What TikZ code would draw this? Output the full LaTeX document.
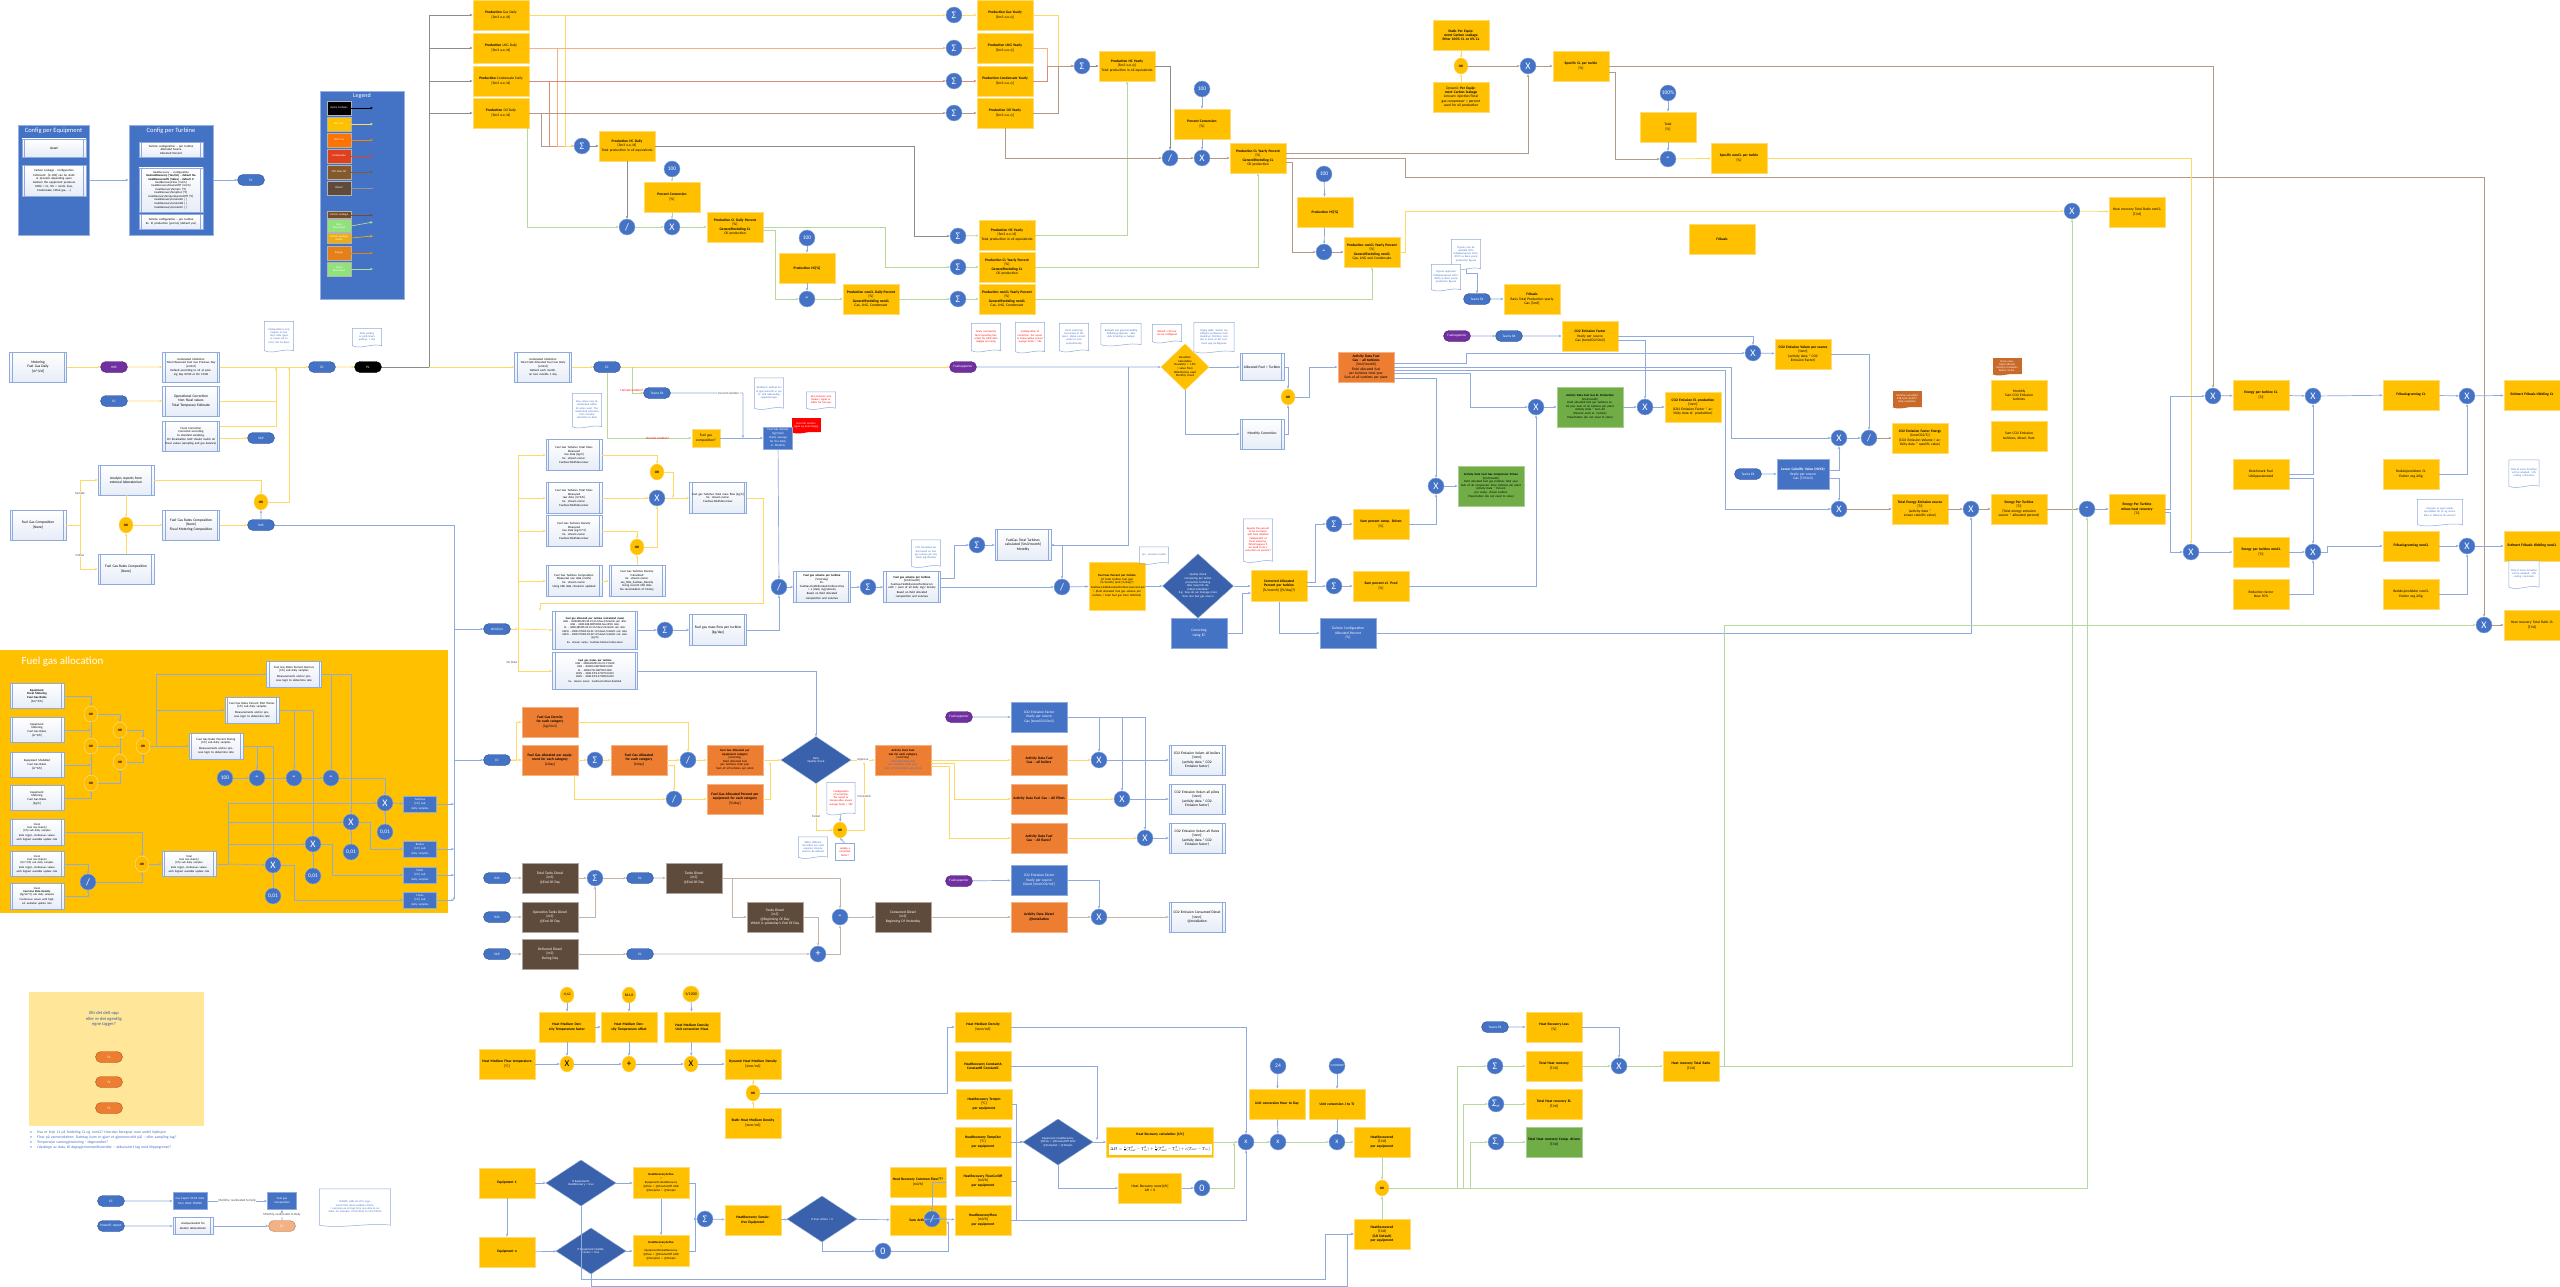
\documentclass[tikz,border=0pt]{standalone}
\usepackage{fontspec}
\usepackage{graphicx}
\setmainfont{Carlito}
\usetikzlibrary{arrows.meta,shapes.geometric,shapes.misc,calc}
\definecolor{Y}{HTML}{FFC000}
\definecolor{B}{HTML}{4472C4}
\definecolor{BD}{HTML}{3A62AC}
\definecolor{O}{HTML}{ED7D31}
\definecolor{G}{HTML}{70AD47}
\definecolor{BR}{HTML}{5F4B3B}
\definecolor{PU}{HTML}{7030A0}
\definecolor{LY}{HTML}{FFD966}
\definecolor{LB}{HTML}{8FAADC}
\definecolor{LBR}{HTML}{B39A88}
\definecolor{LBR2}{HTML}{C2B4A8}
\definecolor{LG}{HTML}{B5D99C}
\definecolor{LGR}{HTML}{8C8C8C}
\definecolor{LO}{HTML}{F4B183}
\definecolor{LR}{HTML}{D98C7A}
\definecolor{PALE}{HTML}{FFE699}
\definecolor{PEACH}{HTML}{F4B183}
\newcommand{\myfs}{\fontsize{3.6}{4.2}\selectfont}
\newcommand{\mysfs}{\fontsize{3}{3.5}\selectfont}
\tikzset{
 bstyle/.style={font=\myfs, align=center, inner sep=0.5pt},
 yb/.style={bstyle, fill=Y, draw=Y!55!white, line width=0.8pt},
 ob/.style={bstyle, fill=O, draw=O!60!white, line width=0.8pt},
 gb/.style={bstyle, fill=G, draw=G!60!white, line width=0.8pt},
 bb/.style={bstyle, fill=B, draw=B!60!white, line width=0.8pt, text=white},
 brb/.style={bstyle, fill=BR, draw=BR!50!white, line width=0.8pt, text=white},
 pp/.style={bstyle, top color=white, bottom color=LB!22, draw=LB, line width=0.5pt,
   path picture={\draw[LB, line width=0.4pt] ([xshift=2.5pt]path picture bounding box.north west) -- ([xshift=2.5pt]path picture bounding box.south west) ([xshift=-2.5pt]path picture bounding box.north east) -- ([xshift=-2.5pt]path picture bounding box.south east);}},
 op/.style={circle, fill=B, draw=B!60!white, text=white, minimum size=16pt, inner sep=0pt, font=\fontsize{10}{10}\selectfont},
 opn/.style={op, font=\fontsize{5.5}{5.5}\selectfont},
 yop/.style={ellipse, fill=Y, draw=Y!60!white, minimum width=14pt, minimum height=16pt, inner sep=0pt, font=\fontsize{3.4}{3.4}\selectfont\bfseries},
 yopb/.style={yop, font=\fontsize{9}{9}\selectfont},
 fop/.style={yop, fill=Y!92!orange, draw=white!60!Y},
 pill/.style={rounded rectangle, fill=B, draw=B!70!black, text=white, minimum width=28pt, minimum height=11pt, inner sep=0.5pt, font=\fontsize{3.4}{3.4}\selectfont},
 ppl/.style={pill, fill=PU, draw=PU!70!black},
 kpl/.style={pill, fill=black, draw=black},
 opl/.style={pill, fill=O, draw=O!70!black},
 bdia/.style={diamond, fill=BD, draw=BD!60!white, text=white, inner sep=0pt, font=\fontsize{3}{3.6}\selectfont, align=center},
 ydia/.style={bdia, fill=Y, draw=Y!60!white, text=black},
 lbl/.style={fill=white, inner sep=0.5pt, font=\fontsize{3.2}{3.2}\selectfont, text=black!70},
 lsw/.style={minimum width=24pt, minimum height=14pt, text width=23pt, text=white, font=\fontsize{2.8}{3.2}\selectfont, inner sep=0.3pt, align=center, draw=white!70!black, line width=0.4pt},
 ar/.style={line width=0.7pt, -{Stealth[length=3pt,width=2.4pt]}},
 ay/.style={ar, draw=LY},
 ab/.style={ar, draw=LB},
 abr/.style={ar, draw=LBR},
 abd/.style={ar, draw=LBR2},
 ag/.style={ar, draw=LG},
 agr/.style={ar, draw=LGR},
 ao/.style={ar, draw=LO},
 ared/.style={ar, draw=LR},
}
\newcommand{\bx}[7][yb]{\pgfmathsetlengthmacro\mytw{#5-4}\node[#1, minimum width=#5pt, minimum height=#6pt, text width=\mytw] (#2) at (#3,#4) {#7};}
\newcommand{\docn}[7][LB]{\pgfmathsetlengthmacro\mytw{#5-3}\node[bstyle, fill=white, font=\fontsize{2.7}{3.2}\selectfont, text=B, minimum width=#5pt, minimum height=#6pt, text width=\mytw] (#2) at (#3,#4) {#7};
 \draw[#1, line width=0.5pt] (#2.south west) -- (#2.north west) -- (#2.north east) -- (#2.south east) .. controls +({-0.3*#5},-3) and +({0.3*#5},4) .. (#2.south west);}
\newcommand{\fdoc}[7][O!85!black]{\pgfmathsetlengthmacro\mytw{#5-3}\node[bstyle, fill=#1, font=\fontsize{2.7}{3.2}\selectfont, text=white, minimum width=#5pt, minimum height=#6pt, text width=\mytw] (#2) at (#3,#4) {#7};
 \fill[#1] (#2.south east) .. controls +({-0.3*#5},-3) and +({0.3*#5},4) .. (#2.south west) -- cycle;}
\begin{document}
\begin{tikzpicture}[x=1pt,y=-1pt]
\useasboundingbox (0,0) rectangle (2560,1287);
\fill[white] (0,0) rectangle (2560,1287);

%%%%%%%%%%%%%%%% containers
\node[fill=Y, minimum width=448pt, minimum height=263pt, inner sep=0pt] (fga) at (224,781.5) {};
\node[anchor=west, text=white, font=\fontsize{11}{11}\selectfont] (fgat) at (18,662) {Fuel gas allocation};
\node[fill=B, draw=B!55!white, line width=0.8pt, minimum width=71pt, minimum height=110pt] (cfgeq) at (53.5,180) {};
\node[text=white, font=\fontsize{6.5}{6.5}\selectfont] (cfgeqt) at (53.5,131) {Config per Equipment};
\node[fill=B, draw=B!55!white, line width=0.8pt, minimum width=84pt, minimum height=110pt] (cfgt) at (171,180) {};
\node[text=white, font=\fontsize{6.5}{6.5}\selectfont] (cfgtt) at (171,131) {Config per Turbine};
\node[fill=B, draw=B!55!white, line width=0.8pt, minimum width=84pt, minimum height=208pt] (leg) at (362,195) {};
\node[text=white, font=\fontsize{6}{6}\selectfont] (legt) at (362,96) {Legend};
\node[fill=PALE, minimum width=175pt, minimum height=134pt] (pale) at (116.5,1059) {};

%%%%%%%%%%%%%%%% config
\bx[pp]{asset}{54}{148}{64}{18}{Asset}
\bx[pp]{clc}{54}{181}{64}{31}{\mysfs Carbon Leakage - configuration\\[1pt]CLPercent: {}[0..100] can be static or dynamic depending upon medium the equipment produces\\100\% = CL, 0\% = nonCL (Gas, Condensate, Lifted gas, ...)}
\bx[pp]{tc1}{171}{150}{64}{15}{\mysfs Turbine configuration – per turbine\\Allocated Source\\Allocated Percent}
\bx[pp]{tc2}{171}{190}{64}{44}{\fontsize{2.9}{3.45}\selectfont HeatRecovery – configuration\\\textbf{HasHeatRecovery [Yes/No] - default No}\\\textbf{HeatRecoveredTJ [Value] - default 0}\\HeatRecoveryFlow [m3/h]\\HeatRecoveryFlowCutOff [m3/h]\\HeatRecoveryTempIn [°C]\\HeatRecoveryTempOut [°C]\\HeatRecoveryTemperatureCutOff [°C]\\HeatRecoveryConstantA [ ]\\HeatRecoveryConstantB [ ]\\HeatRecoveryConstantC [ ]}
\bx[pp]{tc3}{171}{222}{64}{15}{\mysfs Turbine configuration – per turbine\\Ex. El production [yes/no] (default yes)}
\node[pill] (ecc) at (251,180) {EC};
\draw[ab] (cfgeq) -- (cfgt);
\draw[ab] (cfgt) -- (ecc);

%%%%%%%%%%%%%%%% legend
\node[lsw, fill=black] (l1) at (339,108) {Hydro Carbons};
\node[lsw, fill=Y] (l2) at (339,124) {Dry Gas};
\node[lsw, fill=orange!90!red] (l3) at (339,140) {Wet Gas};
\node[lsw, fill=red!50!brown] (l4) at (339,156) {Condensate};
\node[lsw, fill=brown!70!black] (l5) at (339,172) {Oil/ Raw Oil};
\node[lsw, fill=BR] (l6) at (339,188) {Diesel};
\node[lsw, fill=brown!60!black, minimum height=7pt] (l7) at (339,215) {Carbon Leakage};
\node[lsw, fill=LG!80!green, minimum height=13pt] (l8) at (339,226) {Heat\\Recovered};
\node[lsw, fill=Y!70!brown, minimum height=10pt] (l9) at (339,238) {Carbon Leakage\\nonCL};
\node[lsw, fill=orange!60!brown] (l10) at (339,253) {Energy};
\node[lsw, fill=LG!80!green] (l11) at (339,269) {Heat\\Recovered};
\draw[ar, draw=black] (l1.east) -- (373,108);
\draw[ay] (l2.east) -- (373,124);
\draw[ar, draw=orange] (l3.east) -- (373,140);
\draw[ar, draw=red!50!brown] (l4.east) -- (373,156);
\draw[ar, draw=brown!70!black] (l5.east) -- (373,172);
\draw[ar, draw=BR!60!white, -] (l6.east) -- (373,188);
\draw[ar, draw=brown!60!black] (l7.east) -- (373,215);
\draw[ag] (l8.east) -- (373,222);
\draw[ar, draw=Y!70!brown] (l9.east) -- (373,236);
\draw[ar, draw=orange!60!brown] (l10.east) -- (373,253);
\draw[ag] (l11.east) -- (373,269);

%%%%%%%%%%%%%%%% production daily
\bx{pgd}{501}{15}{56}{30}{\textbf{Production} Gas Daily\\{}[Sm3 o.e./d]}
\bx{pld}{501}{48}{56}{30}{\textbf{Production} LNG Daily\\{}[Sm3 o.e./d]}
\bx{pcd}{501}{81}{56}{30}{\textbf{Production} Condensate Daily\\{}[Sm3 o.e./d]}
\bx{pod}{501}{113}{56}{30}{\textbf{Production} Oil Daily\\{}[Sm3 o.e./d]}
\node[op] (s1) at (582,146) {Σ};
\bx{phd}{627}{146}{56}{30}{\textbf{Production HC Daily}\\{}[Sm3 o.e./d]\\Total production in oil equivalents}
\node[op] (d1) at (627,227) {/};
\node[opn] (c100a) at (672,169) {100};
\bx{pca}{672}{197}{56}{30}{\textbf{Percent Conversion}\\{}[\%]}
\node[op] (x1) at (672,227) {X};
\bx{pcldp}{735}{227}{56}{30}{\textbf{Production CL Daily Percent}\\{}[\%]\\\textbf{Generellfordeling CL}\\Oil production}
\node[opn] (c100b) at (807,238) {100};
\bx{phcp}{807}{268}{56}{30}{\textbf{Production HC[\%]}}
\node[op] (m1) at (807,299) {-};
\bx{pncldp}{871}{299}{56}{30}{\textbf{Production nonCL Daily Percent}\\{}[\%]\\\textbf{Generellfordeling nonCL}\\Gas, LNG, Condensate}

%%%%%%%%%%%%%%%% production yearly
\node[op] (sg1) at (954,15) {Σ};
\node[op] (sg2) at (954,48) {Σ};
\node[op] (sg3) at (954,81) {Σ};
\node[op] (sg4) at (954,113) {Σ};
\bx{pgy}{1005}{15}{56}{30}{\textbf{Production Gas Yearly}\\{}[Sm3 o.e./y]}
\bx{ply}{1005}{48}{56}{30}{\textbf{Production LNG Yearly}\\{}[Sm3 o.e./y]}
\bx{pcy}{1005}{81}{56}{30}{\textbf{Production Condensate Yearly}\\{}[Sm3 o.e./y]}
\bx{poy}{1005}{113}{56}{30}{\textbf{Production Oil Yearly}\\{}[Sm3 o.e./y]}
\node[op] (s5) at (1082,66) {Σ};
\bx{phy}{1127}{66}{56}{30}{\textbf{Production HC Yearly}\\{}[Sm3 o.e./y]\\Total production in oil equivalents}
\node[op] (d2) at (1170,158) {/};
\node[opn] (c100c) at (1202,89) {100};
\bx{pcb}{1202}{124}{56}{30}{\textbf{Percent Conversion}\\{}[\%]}
\node[op] (x2) at (1202,158) {X};
\bx{pcly}{1258}{158}{56}{30}{\textbf{Production CL Yearly Percent}\\{}[\%]\\\textbf{Generellfordeling CL}\\Oil production}
\node[op] (s6) at (958,236) {Σ};
\node[op] (s7) at (958,267) {Σ};
\node[op] (s8) at (958,299) {Σ};
\bx{phy2}{1007}{235}{56}{30}{\textbf{Production HC Yearly}\\{}[Sm3 o.e./d]\\Total production in oil equivalents}
\bx{pcly2}{1007}{267}{56}{30}{\textbf{Production CL Yearly Percent}\\{}[\%]\\\textbf{Generellfordeling CL}\\Oil production}
\bx{pncly2}{1007}{299}{56}{30}{\textbf{Production nonCL Yearly Percent}\\{}[\%]\\\textbf{Generellfordeling nonCL}\\Gas, LNG, Condensate}

%%%%%%%%%%%%%%%% carbon leakage
\bx{stat}{1461}{35}{56}{30}{\textbf{Static Per Equipment Carbon Leakage}\\\textbf{Ether 100\% CL or 0\% CL}}
\node[yop] (or1) at (1461,66) {OR};
\bx{dyncl}{1461}{97}{56}{30}{Dynamic \textbf{Per Equipment Carbon leakage}\\Amount injection/Total gas compressor = percent used for oil production}
\node[op] (x3) at (1528,66) {X};
\bx{scl}{1581}{66}{56}{30}{\textbf{Specific CL per turbin}\\{}[\%]}
\node[opn] (c100d) at (1668,93) {100\%};
\bx{totp}{1668}{127}{56}{30}{Total\\{}[\%]}
\node[op] (m2) at (1668,159) {-};
\bx{sncl}{1739}{158}{56}{30}{\textbf{Specific nonCL per turbin}\\{}[\%]}
\node[opn] (c100e) at (1324,174) {100};
\bx{phcp2}{1325}{212}{56}{30}{\textbf{Production HC[\%]}}
\node[op] (m3) at (1324,252) {-};
\bx{pncly}{1372}{252}{56}{30}{\textbf{Production nonCL Yearly Percent}\\{}[\%]\\\textbf{Generellfordeling nonCL}\\Gas, LNG and Condensate}
\bx{frib}{1722}{239}{66}{30}{\textbf{Fribasis}}
\docn{dt1}{1466}{254}{29}{29}{Figures may be updated 2015 (Miljørevisjonen 2015-2019) as basis yearly production figures}
\docn{dt2}{1446}{277}{29}{25}{Figures approved (Miljørevisjonen 2014-2018) as basis yearly production figures}
\node[pill] (tex1) at (1477,299) {Teams EX};
\bx{frib2}{1532}{299}{56}{30}{\textbf{Fribasis}\\Basis Total Production yearly\\Gas [Sm3]}
\node[ppl] (pu3) at (1457,336) {Fuelrapporter};
\node[pill] (tex2) at (1509,336) {Teams EX};
\bx{co2f}{1590}{336}{56}{30}{\textbf{CO2 Emission Factor}\\Yearly per source\\Gas [tonnCO2/Sm3]}
\node[op] (x4) at (1753,353) {X};
\bx{co2v}{1803}{354}{56}{30}{\textbf{CO2 Emission Volum per source}\\{}[tonn]\\(activity data * CO2 Emission Factor)}
\bx[ob]{adt}{1366}{367}{56}{30}{\textbf{Activity Data Fuel Gas – all turbines}\\{}[Sm3/month]\\Field allocated fuel per turbines total year\\Sum of all turbines per plant}
\node[yop] (or2) at (1288,397) {OR};
\node[op] (x5) at (1536,407) {X};
\bx[gb]{adel}{1590}{407}{66}{40}{\mysfs\textbf{Activity Data Fuel Gas EL Production}\\{}[Sm3/month]\\Field allocated fuel per turbines total year Sum of all turbines per plant\\Activity Data * Sum All (Percent each el. turbine)\\Presentation (do not need to store)}
\node[op] (x6) at (1645,407) {X};
\bx{co2el}{1693}{407}{56}{30}{\textbf{CO2 Emission EL production}\\{}[tonn]\\(CO2 Emission Factor * activity data el. production)}

%%%%%%%%%%%%%%%% energy / fribasis
\node[op] (x7) at (2072,211) {X};
\bx{hrnc}{2137}{212}{56}{30}{Heat recovery Total Ratio nonCL\\{}[TJ/d]}
\fdoc{od1}{2007}{366}{29}{16}{Yearly calculated estimate\\Monthly resolution\\Before 15 dec}
\fdoc{od2}{1907}{399}{29}{16}{Monthly calculated\\ESB each month?\\Daily resolution}
\bx{msum}{2019}{395}{56}{30}{Monthly\\Sum CO2 Emission\\turbines}
\bx{sum2}{2019}{436}{56}{30}{Sum CO2 Emission\\turbines, diesel, flare}
\node[op] (x8) at (2213,396) {X};
\bx{epcl}{2261}{395}{56}{30}{\textbf{Energy per turbine CL}\\{}[TJ]}
\node[op] (x9) at (2313,396) {X};
\bx{fgcl}{2411}{395}{56}{30}{\textbf{Fribasisgrunnlag CL}}
\node[op] (x10) at (2467,396) {X};
\bx{efcl}{2532}{395}{56}{30}{\textbf{Estimert Fribasis tildeling CL}}
\node[op] (x11) at (1839,438) {X};
\node[op] (d3) at (1869,438) {/};
\bx{co2fe}{1920}{438}{56}{30}{\textbf{CO2 Emission Factor Energy}\\{}[tonnCO2/TJ]\\(CO2 Emission Volume / activity data * specific value)}
\node[pill] (tex3) at (1748,474) {Teams EX};
\bx[bb]{lcv}{1803}{474}{52}{30}{\textbf{Lower Calorific Value (NVCk)}\\Yearly per source\\Gas [TJ/Sm3]}
\node[op] (x12) at (1839,509) {X};
\bx{tee}{1920}{509}{56}{30}{\textbf{Total Energy Emission source}\\{}[TJ]\\(activity data * Lower calorific value)}
\node[op] (x13) at (1971,509) {X};
\bx{ept}{2019}{509}{56}{30}{\textbf{Energy Per Turbine}\\{}[TJ]\\(Total energy emission source * allocated percent)}
\node[op] (m4) at (2087,509) {-};
\bx{eptm}{2137}{509}{56}{30}{\textbf{Energy Per Turbine minus heat recovery}\\{}[TJ]}
\bx{bench}{2261}{474}{56}{30}{Benchmark Fuel\\Utslippsstandard}
\node[op] (x14) at (2191,552) {X};
\bx{epncl}{2261}{552}{56}{30}{\textbf{Energy per turbine nonCL}\\{}[TJ]}
\node[op] (x15) at (2313,552) {X};
\bx{rfac}{2261}{594}{56}{30}{Reduction factor\\Now 50\%}
\bx{rfcl}{2411}{474}{56}{30}{Reduksjonsfaktor CL\\Endrer seg årlig}
\bx{fgncl}{2411}{546}{56}{30}{\textbf{Fribasisgrunnlag nonCL}}
\node[op] (x16) at (2467,546) {X};
\bx{efncl}{2532}{546}{56}{30}{\textbf{Estimert Fribasis tildeling nonCL}}
\bx{rfncl}{2411}{594}{56}{30}{Reduksjonsfaktor nonCL\\Endrer seg årlig}
\docn{de1}{2524}{473}{30}{26}{Data of same format(s) will be adapted. 15\% ending i emissions}
\docn{de2}{2440}{512}{45}{25}{Energien er egen reduksjonsfaktor for CL og nonCL. Eller er faktoren lik samme?}
\docn{de3}{2524}{574}{30}{26}{Data of same format(s) will be adapted. 15\% ending i emissions}
\node[op] (x17) at (2484,625) {X};
\bx{hrcl}{2532}{625}{56}{30}{Heat recovery Total Ratio CL\\{}[TJ/d]}

%%%%%%%%%%%%%%%% compressor / el
\bx[gb]{adcd}{1491}{486}{66}{40}{\mysfs\textbf{Activity Data Fuel Gas Compressor Driven}\\{}[Sm3/month]\\Field allocated fuel gas turbines total year Sum of all compressor drive turbines per plant\\Activity Data * Percent per comp. driven turbine\\Presentation (do not need to store)}
\node[op] (x18) at (1436,486) {X};
\node[op] (s9) at (1334,524) {Σ};
\bx{spcd}{1381}{524}{56}{30}{\textbf{Sum percent comp. Driven}\\{}[\%]}
\node[op] (s10) at (1334,586) {Σ};
\bx{spel}{1381}{586}{56}{30}{\textbf{Sum percent el. Prod}\\{}[\%]}
\bx[bb]{tcfg}{1348}{633}{56}{30}{Turbine Configuration\\Allocated Percent\\{}[\%]}

%%%%%%%%%%%%%%%% row 367
\bx[pp]{meter}{38}{367}{57}{30}{Metering\\Fuel Gas Daily\\{}[m\textasciicircum 3/d]}
\node[ppl] (pu0) at (114,367) {IMS};
\bx[pp]{acoll}{191}{367}{57}{30}{\mysfs Automated Collection\\Total Measured Fuel Gas Previous Day\\{}[sm3/d]\\Default according to oil at posting Day 09:00 or Dir 10:00}
\node[pill] (ec1) at (114,401) {EC};
\bx[pp]{opcor}{191}{401}{57}{30}{Operational Correction\\Non fiscal values\\Total Temporary Estimate}
\bx[pp]{fcor}{191}{436}{57}{30}{\mysfs Fiscal Correction\\Corrected according to standard sampling.\\CO fiscalisation GHP should match all fiscal values (sampling and gas balance)}
\node[pill] (ec2) at (322,367) {EC};
\node[kpl] (pl) at (368,367) {PL};
\coordinate (j1) at (429,367);
\docn{dm1}{279}{336}{29}{29}{Manipulations only happen on last day's data (gaps or values set to error, last 10 days)}
\docn{dm2}{367}{337}{29}{17}{Daily posting or preliminary posting: 1 day}
\bx[pp]{afield}{543}{367}{57}{30}{\mysfs Automated Collection\\Total Field Allocated Fuel Gas Daily\\{}[sm3/d]\\Default each month, on two months 1 day}
\node[pill] (ec3) at (607,367) {EC};
\docn{dm3}{587}{410}{29}{33}{Raw values may be reallocated within EC when used. The reallocated allocation from monthly allocation to daily}
\node[ppl] (pu1) at (963,367) {Fuelrapporter};
\node[ydia, minimum width=48pt, minimum height=36pt, text width=26pt] (dev) at (1185,367) {Deviation Calculation\\Deviation > 1.5\% = value from NOx/Nornes used\\Monthly check};
\bx[pp]{aft}{1262}{367}{44}{27}{Allocated Fuel > Turbine}
\bx[pp]{mcor}{1262}{434}{44}{30}{Monthly Correction}
\docn{dn1}{986}{337}{29}{27}{\color{red}Yearly commercial fiscal reporting has, actual fra vilkår data daglige om mulig}
\docn{dn2}{1030}{337}{29}{29}{\color{red}Configuration of correction. Per report \& Conservative annual average factor = 102}
\docn{dn3}{1074}{337}{29}{27}{Fiscal meterings forecasted at the plant. Status correct, under or over proportionally}
\docn{dn4}{1121}{334}{40}{21}{Budsjett mot gjennomsnittlig fordelingsrapporter - ikke ekte fordeling av fuelgas}
\docn{dn5}{1167}{333}{29}{17}{\color{red}Default 1.5\% but can be configured}
\docn{dn6}{1214}{337}{40}{29}{Daglig sjekk. Varsler om tidligere problemer med fordeling i NOxTool. Hvis det er avvik vil det summere opp på døgnene}
\node[pill] (tex4) at (657,393) {Teams EX};
\docn{dn7}{769}{393}{29}{30}{Verifiserer estimat om et gjennomsnitt er per år. Ved nødvendige rapporteringer}
\docn{dn8}{821}{400}{29}{16}{\color{red}Det at denne som brukes i lagret er faktor for fuel gas}
\fdoc[red]{rflag}{806}{425}{29}{14}{Hvor blir verdien lagret og brukt daglig}
\bx{fgcq}{706}{438}{28}{18}{Fuel gas\\composition?}
\bx[bb]{fgd}{778}{438}{29}{22}{\mysfs Fuel Gas density\\{}[kg/Sm3]\\Yearly average for the Daily or Monthly}

%%%%%%%%%%%%%%%% composition
\bx[pp]{fgc}{38}{525}{56}{30}{Fuel Gas Composition\\{}[None]}
\bx[pp]{anal}{126}{480}{56}{30}{Analysis reports from external laboratorium}
\node[yop] (or3) at (126,525) {OR};
\bx[pp]{fgrc}{126}{569}{56}{30}{Fuel Gas Rates Composition\\{}[None]}
\bx[pp]{fgrcf}{191}{525}{57}{30}{Fuel Gas Rates Composition\\{}[None]\\Fiscal Metering Composition}
\node[pill] (ims1) at (261,525) {IMS};
\node[yop] (or4) at (261,502) {OR};
\node[pill] (sap1) at (261,438) {SAP};

%%%%%%%%%%%%%%%% turbines measured
\bx[pp]{tm1}{574}{455}{56}{31}{\mysfs Fuel Gas Turbines Total Mass\\Measured\\raw data [kg/h]\\Ex. stream name:\\FuelGas.TotalMass.Hour}
\bx[pp]{tm2}{574}{498}{56}{31}{\mysfs Fuel Gas Turbines Total Mass\\Measured\\raw data [m\textasciicircum 3/h]\\Ex. stream name:\\FuelGas.TotalMass.Hour}
\bx[pp]{tm3}{574}{531}{56}{31}{\mysfs Fuel Gas Turbines Density\\Measured\\raw data [kg/m\textasciicircum 3]\\Ex. stream name:\\FuelGas.TotalMass.Hour}
\bx[pp]{tm4}{574}{581}{56}{31}{\mysfs Fuel Gas Turbines Composition\\Measured raw data [mol\%]\\Ex. stream name:\\Using NIR data character updated}
\bx[pp]{tm5}{637}{581}{56}{31}{\mysfs Fuel Gas Turbines Density\\Calculated\\Ex. stream name:\\xxx\_NOx\_FuelGas\_Density\\Using current NIR data\\No recalculation of history}
\bx[pp]{fgapt}{595}{630}{85}{38}{\fontsize{2.8}{3.3}\selectfont\textbf{Fuel gas allocated per turbine (calculated mass)}\\HSB - 4008.80MX5-X3.01:11/Mass1/SmHVD calc alloc\\HSB - 4008.D48.80PTA003.Nox.XPSX alloc\\FL - 4008.28MX5-X2.01:11/Mass1/SmHVD calc alloc\\EKFN - 4008.27MX5-X3.01:11/Mass1/SmHVD calc alloc\\EKFN - 4008.27MX5-X3.02:11/Mass1/SmHVD calc alloc\\{}[kg/h]\\Ex. stream name: FuelGas.Turbine1.Mass.Hour}
\bx[pp]{fgst}{595}{671}{85}{37}{\fontsize{2.8}{3.3}\selectfont\textbf{Fuel gas status per turbine}\\HSB - 4008.80MX5-X3.01:11:NOX\\HSB - 4008.D4.80PTA003.NOX\\FL - 4008.27FL.DEPTS01.NOX\\EKFN - 4008.27FS.27CP701.NOX\\EKFN - 4008.27FS.27CP801.NOX\\[1pt]Ex. stream name: FuelGas.Turbine1.Enabled}
\node[pill] (nox) at (497,629) {NOxTool};
\node[pill] (ec4) at (497,760) {EC};
\node[yop] (or5) at (637,547) {OR};
\node[yop] (or6) at (657,472) {OR};
\node[op] (x19) at (657,498) {X};
\bx[pp]{tmf}{718}{498}{57}{31}{\mysfs Fuel gas Turbines Total mass flow [kg/h]\\Ex. stream name:\\FuelGas.TotalMass.Hour}
\node[op] (s11) at (665,630) {Σ};
\bx[pp]{mfpt}{718}{630}{57}{31}{Fuel gas mass flow per turbine\\{}[kg/day]}
\node[op] (d4) at (779,587) {/};
\bx[pp]{vpt1}{822}{587}{57}{31}{\mysfs\textbf{Fuel gas volume per turbine}\\{}[Sm3/day]\\Ex.\\FuelGas.FieldAllocated.Turbine1.Day = x [daily mg]/density\\Based on field allocated composition and volumes}
\node[op] (s12) at (868,587) {Σ};
\bx[pp]{vpt2}{912}{587}{57}{31}{\mysfs\textbf{Fuel gas volume per turbine}\\{}[Sm3/month]\\FuelGas.FieldAllocated.Turbine1.m onth = (sum of all daily mg)/ density\\Based on field allocated composition and volumes}
\docn{dn9}{926}{553}{29}{26}{CO2 calculated per day based on fuel gas volume per day (daily mg/density)}
\node[op] (s13) at (977,545) {Σ};
\bx[pp]{fgtt}{1023}{545}{56}{31}{FuelGas Total Turbines calculated [Sm3/month]\\Monthly}
\node[op] (d5) at (1062,587) {/};
\bx{fgppt}{1117}{586}{56}{48}{\mysfs\textbf{Fuel Gas Percent per turbine}\\(of total turbine fuel gas)\\{}[\%/month] (and [\%/day]?)\\FuelGas.FieldAllocated.Turbine1.percent.pm = (field allocated fuel gas volume per turbine / total fuel gas from NOxTool)}
\docn{dn10}{1154}{555}{29}{16}{Jan - previous month}
\node[bdia, minimum width=71pt, minimum height=46pt, text width=40pt] (qc) at (1198,586) {Quality check\\Comparing per turbin procentvis fordeling\\How max/min deviation tolerable?\\E.g. how do we manage more than one fuel gas source};
\bx[bb]{corr}{1199}{633}{56}{30}{Correcting\\Using EC}
\docn{dn11}{1258}{540}{29}{42}{\color{red}Expects the percent to be so similar split from NOxTool independent of fiscal metering. What happens if we need to do a correction on percent?}
\bx{cppt}{1279}{586}{56}{31}{\textbf{Corrected Allocated Percent per turbine}\\{}[\%/month] ([\%/day]?)}

%%%%%%%%%%%%%%%% fuel gas allocation inner
\bx[pp]{e1}{37}{696}{54}{25}{\mysfs\textbf{Equipment}\\\textbf{Fiscal Metering}\\\textbf{Fuel Gas Rates}\\{}[Sm\textasciicircum 3/h]}
\bx[pp]{e2}{37}{730}{54}{25}{\mysfs Equipment\\Metering\\Fuel Gas Rates\\{}[m\textasciicircum 3/h]}
\bx[pp]{e3}{37}{765}{54}{25}{\mysfs Equipment Modelled\\Fuel Gas Rates\\{}[m\textasciicircum 3/h]}
\bx[pp]{e4}{37}{798}{54}{25}{\mysfs Equipment\\Metering\\Fuel Gas Rates\\{}[kg/h]}
\bx[pp]{e5}{37}{832}{54}{26}{\fontsize{2.8}{3.3}\selectfont Fiscal\\Fuel Gas Rate(s)\\{}[t/h] sub daily samples\\Rate tag(s), continuous values with highest available update rate}
\bx[pp]{e6}{37}{864}{54}{25}{\fontsize{2.8}{3.3}\selectfont Fiscal\\Fuel Gas Rate(s)\\{}[Sm\textasciicircum 3/h] sub daily samples\\Rate tag(s), continuous values with highest available update rate}
\bx[pp]{e7}{37}{896}{54}{26}{\fontsize{2.8}{3.3}\selectfont Fiscal\\\textbf{Fuel Gas Rate Density}\\{}[kg/Sm\textasciicircum 3] sub daily samples\\Continuous values with highest available update rate}
\node[fop] (o1) at (91,714) {OR};
\node[fop] (o2) at (91,746) {OR};
\node[fop] (o3) at (91,783) {OR};
\node[fop] (o4) at (120,730) {OR};
\node[fop] (o5) at (120,762) {OR};
\node[fop] (o6) at (143,746) {OR};
\bx[pp]{burn}{294}{674}{55}{26}{\mysfs Fuel Gas Rates Percent Burners\\{}[t/h] sub daily samples\\[1pt]Measurements and/or process logic to determine rate}
\bx[pp]{pilot}{252}{710}{54}{26}{\mysfs Fuel Gas Rates Percent Pilot flames\\{}[t/h] sub daily samples\\[1pt]Measurements and/or process logic to determine rate}
\bx[pp]{flar}{216}{746}{54}{26}{\mysfs Fuel Gas Rates Percent Flaring\\{}[t/h] sub daily samples\\[1pt]Measurements and/or process logic to determine rate}
\node[opn] (c100f) at (225,778) {100};
\node[op] (m5) at (257,778) {-};
\node[op] (m6) at (294,778) {-};
\node[op] (m7) at (331,778) {-};
\node[op] (xa) at (385,803) {X};
\node[op] (xb) at (351,822) {X};
\node[op] (xc) at (313,844) {X};
\node[op] (xd) at (273,865) {X};
\node[opn] (ca) at (385,832) {0,01};
\node[opn] (cb) at (351,852) {0,01};
\node[opn] (cc) at (313,876) {0,01};
\node[opn] (cd) at (273,896) {0,01};
\bx[bb]{bt}{420}{804}{33}{16}{\mysfs Turbines\\{}[t/h] sub daily samples}
\bx[bb]{bbo}{420}{849}{33}{16}{\mysfs Boilers\\{}[t/h] sub daily samples}
\bx[bb]{bpi}{420}{875}{33}{16}{\mysfs Pilots\\{}[t/h] sub daily samples}
\bx[bb]{bfl}{420}{900}{33}{16}{\mysfs Flares\\{}[t/h] sub daily samples}
\node[op] (dv) at (88,882) {/};
\node[fop] (o7) at (142,864) {OR};
\bx[pp]{totfg}{189}{864}{54}{25}{\fontsize{2.8}{3.3}\selectfont Total\\Fuel Gas Rate(s)\\{}[t/h] sub daily samples\\Rate tag(s), continuous values with highest available update rate}

%%%%%%%%%%%%%%%% orange categories
\bx[ob]{fgden}{550}{722}{56}{30}{\textbf{Fuel Gas Density for each category}\\{}[kg/Sm3]}
\bx[ob]{fgae}{550}{760}{56}{30}{\textbf{Fuel Gas allocated per equipment for each category}\\{}[t/day]}
\node[op] (s14) at (595,760) {Σ};
\bx[ob]{fgsum}{639}{760}{56}{30}{\textbf{Fuel Gas Allocated for each category}\\{}[t/day]}
\node[op] (d6) at (688,760) {/};
\bx[ob]{fgac}{735}{760}{56}{30}{\mysfs\textbf{Fuel Gas Allocated per equipment category}\\{}[Sm3/day]\\Field allocated fuel per turbines total year\\Sum of all turbines per plant}
\node[op] (d7) at (674,799) {/};
\bx[ob]{fgap}{735}{799}{56}{30}{\textbf{Fuel Gas Allocated Percent per equipment for each category}\\{}[\%/day]}
\node[bdia, minimum width=70pt, minimum height=47pt, text width=30pt] (dqc) at (816,760) {Daily\\Quality check};
\bx[ob]{adfg}{903}{760}{56}{30}{\mysfs\textbf{Activity Data Fuel Gas for each category}\\{}[Sm3/day]\\{\color{B}Field allocated fuel per turbines total year\\Sum of all turbines per plant}}
\docn{dn12}{841}{798}{28}{31}{\color{red}Configuration of correction. Per report \& Conservative annual average factor = 102}
\node[yop] (or8) at (840,830) {OR};
\docn{dn13}{813}{847}{29}{20}{When different correction are used separate streams need to be defined}
\node[bstyle, fill=white, draw=LB, text=red, font=\fontsize{2.7}{3.2}\selectfont, minimum width=19pt, minimum height=17pt, text width=17pt] (upd) at (845,852) {Update a correction factor?};
\node[ppl] (pu2) at (959,717) {Fuelrapporter};
\bx[bb]{co2fg}{1039}{717}{56}{30}{CO2 Emission Factor\\Yearly per source\\Gas [tonnCO2/Sm3]}
\bx[ob]{adb}{1039}{760}{56}{30}{\textbf{Activity Data Fuel Gas – all boilers}}
\bx[ob]{adp}{1039}{799}{56}{30}{\textbf{Activity Data Fuel Gas – All Pilots}}
\bx[ob]{adf}{1039}{838}{56}{30}{\textbf{Activity Data Fuel Gas – All flares?}}
\node[op] (xb1) at (1099,760) {X};
\node[op] (xp1) at (1122,799) {X};
\node[op] (xf1) at (1145,838) {X};
\bx[pp]{cb1}{1197}{760}{56}{30}{CO2 Emission Volum all boilers\\{}[tonn]\\(activity data * CO2 Emission factor)}
\bx[pp]{cp1}{1197}{799}{56}{30}{CO2 Emission Volum all pilots\\{}[tonn]\\(activity data * CO2 Emission factor)}
\bx[pp]{cf1}{1197}{838}{56}{30}{CO2 Emission Volum all flares\\{}[tonn]\\(activity data * CO2 Emission factor)}

%%%%%%%%%%%%%%%% diesel
\node[pill] (pd1) at (497,878) {IMS};
\node[pill] (pd2) at (497,917) {IMS};
\node[pill] (pd3) at (497,954) {SAP};
\bx[brb]{td}{550}{878}{56}{30}{Total Tanks Diesel\\{}[m3]\\@End Of Day}
\bx[brb]{otd}{550}{917}{56}{30}{Operation Tanks Diesel\\{}[m3]\\@End Of Day}
\bx[brb]{dd}{550}{954}{56}{30}{Delivered Diesel\\{}[m3]\\During Day}
\node[op] (s15) at (595,878) {Σ};
\node[pill] (pd4) at (640,878) {EC};
\node[pill] (pd5) at (640,954) {EC};
\bx[brb]{tde}{694}{878}{56}{30}{Tanks Diesel\\{}[m3]\\@End Of Day}
\bx[brb]{tdb}{775}{917}{56}{30}{Tanks Diesel\\{}[m3]\\@Beginning Of Day\\Which is yesterday's End Of Day}
\node[op] (m8) at (840,917) {-};
\node[op] (p1) at (818,954) {+};
\bx[brb]{cons}{903}{917}{56}{30}{Consumed Diesel\\{}[m3]\\Beginning Of Yesterday}
\node[ppl] (pu4) at (959,881) {Fuelrapporter};
\bx[bb]{co2d}{1039}{880}{56}{30}{CO2 Emission Factor\\Yearly per source\\Diesel [tonnCO2/m3]}
\bx[ob]{add}{1039}{917}{56}{30}{\textbf{Activity Data Diesel}\\\textbf{@Installation}}
\node[op] (xd1) at (1099,917) {X};
\bx[pp]{co2dc}{1197}{917}{56}{30}{CO2 Emission Consumed Diesel\\{}[tonn]\\@Installation}

%%%%%%%%%%%%%%%% heat medium
\node[yop, font=\fontsize{3.6}{3.6}\selectfont] (hc1) at (567,995) {-0,62};
\node[yop, font=\fontsize{3.6}{3.6}\selectfont] (hc2) at (629,995) {844,8};
\node[yop, font=\fontsize{4}{4.2}\selectfont] (hc3) at (691,994) {1/\\1000};
\bx{hmf}{567}{1027}{56}{30}{\textbf{Heat Medium Density Temperature factor}}
\bx{hmo}{629}{1027}{56}{30}{\textbf{Heat Medium Density Temperature offset}}
\bx{hmu}{692}{1027}{56}{30}{\textbf{Heat Medium Density Unit conversion Mass}}
\bx{hft}{507}{1064}{56}{30}{\textbf{Heat Medium Flow temperature}\\{}[°C]}
\node[yopb] (yx1) at (567,1064) {X};
\node[yopb] (yp1) at (629,1064) {+};
\node[yopb] (yx2) at (691,1064) {X};
\bx{dynhm}{753}{1064}{56}{30}{\textbf{Dynamic Heat Medium Density}\\{}[tonn/m3]}
\node[yop] (yor) at (753,1093) {OR};
\bx{stahm}{753}{1123}{56}{30}{\textbf{Static Heat Medium Density}\\{}[tonn/m3]}
\bx{hmd}{983}{1027}{56}{30}{\textbf{Heat Medium Density}\\{}[tonn/m3]}
\bx{hrc}{983}{1066}{56}{30}{\textbf{HeatRecovery ConstantA ConstantB ConstantC}}
\bx{hti}{984}{1104}{56}{30}{\textbf{HeatRecovery TempIn}\\{}[°C]\\\textbf{per equipment}}
\bx{hto}{983}{1142}{56}{30}{\textbf{HeatRecovery TempOut}\\{}[°C]\\\textbf{per equipment}}
\bx{hfc}{983}{1181}{56}{30}{\textbf{HeatRecovery FlowCutOff}\\{}[m3/h]\\\textbf{per equipment}}
\bx{hfl}{983}{1220}{56}{30}{\textbf{HeatRecoveryFlow}\\{}[m3/h]\\\textbf{per equipment}}
\node[bdia, minimum width=70pt, minimum height=46pt, text width=36pt] (ehr) at (1058,1142) {Equipment HeatRecovery @Flow > @FlowCutOff AND @TempOut > @TempIn};
\bx{hrcalc}{1160}{1142}{107}{30}{\textbf{Heat Recovery calculation [J/h]}\\[12pt]\ }
\node[fill=white, minimum width=103pt, minimum height=11pt, inner sep=0pt] (hrf) at (1160,1149) {\resizebox{100pt}{!}{$\Delta H=\frac{a}{2}(T_{out}^2-T_{in}^2)+\frac{b}{3}(T_{out}^3-T_{in}^3)+c(T_{out}-T_{in})$}};
\bx{hrn}{1150}{1188}{63}{30}{Heat Recovery none[J/h]\\ΔH = 0}
\node[op] (z1) at (1202,1188) {0};
\node[op, font=\fontsize{7}{7}\selectfont] (x20) at (1246,1142) {x};
\node[opn] (c24) at (1278,1066) {24};
\bx{uch}{1277}{1104}{56}{30}{\textbf{Unit conversion Hour to Day}}
\node[op, font=\fontsize{7}{7}\selectfont] (x21) at (1278,1142) {x};
\node[opn, font=\fontsize{3}{3.3}\selectfont] (cm) at (1337,1066) {1/\\1000000};
\bx{ucj}{1337}{1104}{56}{30}{\textbf{Unit conversion J to TJ}}
\node[op, font=\fontsize{7}{7}\selectfont] (x22) at (1337,1142) {x};
\bx{hrec}{1382}{1142}{56}{30}{\textbf{HeatRecovered}\\{}[TJ/d]\\\textbf{per equipment}}
\node[yop] (or9) at (1382,1188) {OR};
\bx{hrild}{1382}{1234}{56}{30}{\textbf{HeatRecovered}\\{}[TJ/d]\\\textbf{(ILR Default)}\\\textbf{per equipment}}
\node[pill] (tex5) at (1495,1027) {Teams EX};
\bx{hrl}{1554}{1027}{56}{30}{\textbf{Heat Recovery Loss}\\{}[\%]}
\node[op] (s16) at (1495,1066) {Σ};
\bx{thr}{1554}{1066}{56}{30}{\textbf{Total Heat recovery}\\{}[TJ/d]}
\node[op] (s17) at (1496,1104) {Σ\textsubscript{\fontsize{4}{4}\selectfont el}};
\bx{threl}{1554}{1104}{56}{30}{\textbf{Total Heat recovery EL}\\{}[TJ/d]}
\node[op] (s18) at (1496,1142) {Σ\textsubscript{\fontsize{4}{4}\selectfont c}};
\bx[gb]{thrc}{1554}{1142}{56}{30}{\textbf{Total Heat recovery Comp. driven}\\{}[TJ/d]}
\node[op] (x23) at (1619,1066) {X};
\bx{hrtr}{1691}{1066}{56}{30}{\textbf{Heat recovery Total Ratio}\\{}[TJ/d]}

%%%%%%%%%%%%%%%% sum active
\bx{eq1}{507}{1183}{56}{30}{\textbf{Equipment 1}}
\node[bdia, minimum width=70pt, minimum height=46pt, text width=30pt] (dia1) at (581,1183) {If Equipment1 HeatRecovery = true};
\bx{hra1}{661}{1183}{56}{31}{\mysfs\textbf{HeatRecoveryActive}\\=\\Equipment1.HeatRecovery @Flow > @FlowCutOff AND @TempOut > @TempIn}
\bx{eqn}{507}{1252}{56}{30}{\textbf{Equipment n}}
\node[bdia, minimum width=70pt, minimum height=46pt, text width=30pt] (dian) at (591,1251) {If Equipment HeatRecovery = true};
\bx{hran}{661}{1251}{56}{31}{\mysfs\textbf{HeatRecoveryActive}\\=\\EquipmentN.HeatRecovery @Flow > @FlowCutOff AND @TempOut > @TempIn}
\node[op] (s19) at (705,1219) {Σ};
\bx{hrsa}{753}{1220}{56}{30}{\textbf{HeatRecovery SumActive Equipment}}
\node[bdia, minimum width=70pt, minimum height=46pt, text width=30pt] (dsa) at (822,1219) {If Sum Active > 0};
\bx{hrcf}{918}{1182}{56}{30}{\textbf{Heat Recovery Common Flow???}\\{}[m3/h]}
\bx{sa}{918}{1220}{56}{30}{\textbf{Sum Active}}
\node[op] (d8) at (932,1219) {/};
\node[op] (z2) at (883,1251) {0};

%%%%%%%%%%%%%%%% bottom left
\node[text=B!80!black, font=\fontsize{4.5}{5.5}\selectfont, align=center] (palet) at (104,1019) {Blir det delt opp\\eller er det egentlig\\egne tagger?};
\node[opl] (fl1) at (109,1057) {FL};
\node[opl] (fl2) at (109,1082) {FL};
\node[opl] (fl3) at (109,1108) {FL};
\node[anchor=north west, text width=160pt, text=B, font=\fontsize{3.8}{4.8}\selectfont, align=left, inner sep=0pt] (bul) at (30,1131) {%
{\hangindent=7pt\hangafter=1 \makebox[7pt][l]{•}Hva er linje 11 på fordeling CL og nonCL? Hvordan beregnar man andel injeksjon\par}
{\hangindent=7pt\hangafter=1 \makebox[7pt][l]{•}Flow på varmevekslere: Ratetag (som er gjort et gjennomsnitt på) – eller sampling tag?\par}
{\hangindent=7pt\hangafter=1 \makebox[7pt][l]{•}Temperatur varmegjenvinning - døgnverdier?\par}
{\hangindent=7pt\hangafter=1 \makebox[7pt][l]{•}rVaskingn av data, til døgngjennomsnittsverdier – akkumulert tag med klippegrense?\par}};
\node[pill] (ecb) at (111,1201) {EC};
\bx[bb]{gexp}{190}{1201}{34}{17}{\mysfs Gas Export DCUS Total from HASE PSSD90}
\bx[bb]{fgcomp}{282}{1201}{29}{17}{\mysfs Fuel gas Composition}
\node[pill] (pwr) at (111,1226) {Powerfl. report};
\bx[pp]{anres}{193}{1226}{40}{17}{\mysfs Analyseresultat fra ekstern laboratorium}
\node[pill, fill=PEACH, draw=PEACH!70!black] (pec) at (282,1226) {EC};
\docn{dsum}{355}{1207}{71}{36}{SUMIFS: adds all of its arguments that meet multiple criteria.\\= summing up all tags from one date to another, for example: 01/01/2014 to 31/12/2014}
\draw[ab] (ecb) -- (gexp);
\draw[ab] (gexp) -- node[lbl]{Monthly, reallocated to Daily} (fgcomp);
\draw[ab] (pwr) -- (anres);
\draw[ab] (anres) -- (pec);
\draw[ab] (pec) -- node[lbl]{Monthly, reallocated to Daily} (fgcomp);

%%%%%%%%%%%%%%%%%%%%%%%%%%%%%%%% CONNECTORS
% row 367
\draw[ay] (meter) -- (pu0);
\draw[ay] (pu0) -- (acoll);
\draw[ay] (ec1) -- (opcor);
\draw[ay] (acoll) -- (ec2);
\draw[ay] (opcor.east) -| (276,367);
\draw[ay] (fcor.east) ++(0,-10) -| (276,367);
\draw[ay] (fcor.east) ++(0,2) -- (sap1.west);
\draw[ay] (or4.east) -| (289,367);
\draw[ay] (ec2) -- (pl);
\draw[agr, -] (pl.east) -- (j1);
\draw[ay] (j1) -- (afield.west);
\draw[agr] (j1) |- (pgd.west);
\draw[agr] (j1) |- (pld.west);
\draw[agr] (j1) |- (pcd.west);
\draw[agr] (j1) |- (pod.west);
\draw[ay] (afield) -- (ec3);
\draw[ay] (ec3.east) -- (pu1.west);
\draw[ab] (pu1) -- (dev);
\draw[ab] (dev) -- (aft);
\draw[ab] (dev.south) |- (mcor.west);
\draw[ab] (aft.east) -| (or2.north);
\draw[ab] (mcor.east) -| (or2.south);
\draw[ab] (or2.east) -- ++(14,0) |- (adt.west);
\draw[ab] (1128,367) |- (fgtt.east);
\draw[ag] (632,367) |- node[lbl, text=red, pos=0.45, fill=none]{Harvest solution?} (tex4.west);
\draw[ag] (ec3.south) |- node[lbl, text=red, pos=0.8, fill=none]{Harvest solution?} (fgcq.west);
\draw[ab] (tex4) -- node[lbl, pos=0.8]{Current solution} (743,393) -- (743,438);
\draw[ab] (fgcq) -- (fgd);

% production
\draw[abr] (pod.east) -- (541,113) |- (s1.west);
\draw[ar, draw=LR] (pcd.east) -- (549,81) |- (s1.west);
\draw[ao] (pld.east) -- (557,48) |- (s1.west);
\draw[ay] (pgd.east) -- (565,15) |- (s1.west);
\draw[agr] (s1) -- (phd);
\draw[agr] (phd) -- (d1);
\draw[ag] ([xshift=-2pt]pod.south east) |- (d1.west);
\draw[ag] (d1) -- (x1);
\draw[ag] (c100a) -- (pca);
\draw[ag] (pca) -- (x1);
\draw[ag] (x1) -- (pcldp);
\draw[agr] (phd.east) -- (914,146) |- (s6.west);
\draw[ag] (s6) -- (phy2);
\draw[ag] (phy2.east) -| (phy.south);
\draw[ag] (pcldp.east) -- (885,227) |- (s7.west);
\draw[ag] (s7) -- (pcly2);
\draw[ag] (pcly2.east) -| (pcly.south);
\draw[ag] (pcldp.east) ++(0,3) -| (775,299) -- (m1.west);
\draw[ab] (c100b) -- (phcp);
\draw[ab] (phcp) -- (m1);
\draw[ag] (m1) -- (pncldp);
\draw[ag] (pncldp) -- (s8);
\draw[ag] (s8) -- (pncly2);
\draw[ag] (pncly2.east) -| (pncly.south);
\draw[ay] (pgd.east) -- (sg1.west);
\draw[ao] (pld.east) -- (sg2.west);
\draw[ar, draw=LR] (pcd.east) -- (sg3.west);
\draw[abr] (pod.east) -- (sg4.west);
\draw[ay] (sg1) -- (pgy);
\draw[ao] (sg2) -- (ply);
\draw[ar, draw=LR] (sg3) -- (pcy);
\draw[abr] (sg4) -- (poy);
\draw[ay] (pgy.east) -- (1058,15) |- (s5.west);
\draw[ao] (ply.east) -- (1047,48) |- (s5.west);
\draw[ar, draw=LR] (pcy.east) -- (1047,81) |- (s5.west);
\draw[abr] (poy.east) -- (1058,113) |- (s5.west);
\draw[agr] (s5) -- (phy);
\draw[agr] (phy.east) -| (d2.north);
\draw[abr] (poy.south) |- (d2.west);
\draw[abr] (d2) -- (x2);
\draw[ab] (c100c) -- (pcb);
\draw[ab] (pcb) -- (x2);
\draw[abr] (x2) -- (pcly);
\draw[abr] (pcly.east) ++(0,-5) -| (x3.south);
\draw[abr] (pcly.east) -- (1405,158) |- (2484,177) -- (x17.north);
\draw[abr] (pcly.east) ++(0,4) -| (1292,252) -- (m3.west);
\draw[ab] (c100e) -- (phcp2);
\draw[ab] (phcp2) -- (m3);
\draw[abr] (m3) -- (pncly);
\draw[ay] (pncly.east) -| (1405,211) -- (x7.west);
\draw[ay] (stat) -- (or1);
\draw[ay] (dyncl) -- (or1);
\draw[abr] (or1) -- (x3);
\draw[abr] (x3) -- (scl);
\draw[abr] (scl.east) ++(0,6) -| (1615,159) -- (m2.west);
\draw[ab] (c100d) -- (totp);
\draw[ab] (totp) -- (m2);
\draw[ay] (m2) -- (sncl);
\draw[abr] (scl.east) -| (x8.north);
\draw[ay] (sncl.east) -| (x14.north);
\draw[ay] (x7) -- (hrnc);
\draw[abr] (x17) -- (hrcl);

% fribasis, co2
\draw[ab] (dt1.south) -- ++(0,5) -| (tex1.north);
\draw[ab] (tex1) -- (frib2);
\draw[ab] (pu3) -- (tex2);
\draw[ab] (tex2) -- (co2f);
\draw[ab] (co2f.east) -| (x4.north);
\draw[ab] (co2f.east) ++(0,4) -| (x6.north);
\draw[ab] (adt.east) ++(0,-4) -- (1466,363) |- (x4.west);
\draw[ab] (adt.east) -- (1731,367) |- (x11.west);
\draw[ab] (adt.east) ++(0,3) -- (1725,370) |- (x12.west);
\draw[ab] (adt.east) ++(0,6) -- (1470,373) |- (x5.west);
\draw[ab] (adt.east) ++(0,11) -| (x18.north);
\draw[ab] (x4) -- (co2v);
\draw[ab] (co2v.east) -| (d3.north);
\draw[ab] (x11) -- (d3);
\draw[abr] (d3) -- (co2fe);
\draw[ab] (x5) -- (adel);
\draw[ab] (adel) -- (x6);
\draw[ab] (x6) -- (co2el);
\draw[ab] (spel.east) -| (x5.south);
\draw[ab] (spcd.east) -| (x18.south);
\draw[ab] (x18) -- (adcd);
\draw[ab] (cppt) -- (s10);
\draw[ab] (cppt.east) ++(0,-4) -| (1315,524) -- (s9.west);
\draw[ab] (s9) -- (spcd);
\draw[ab] (s10) -- (spel);
\draw[ab] (cppt.south) |- (tcfg.west);

% energy
\draw[ab] (tex3) -- (lcv);
\draw[ab] (lcv.east) ++(0,-4) -| (x11.south);
\draw[ab] (lcv.east) ++(0,4) -| (x12.north);
\draw[abr] (x12) -- (tee);
\draw[abr] (tee) -- (x13);
\draw[abr] (x13) -- (ept);
\draw[abr] (ept) -- (m4);
\draw[ab] (m4) -- (eptm);
\draw[ab] (tcfg.east) -| (x13.south);
\draw[ab] (eptm.east) -- (2170,509) |- (x8.west);
\draw[ab] (eptm.east) ++(0,3) -- (2170,512) |- (x14.west);
\draw[ab] (x8) -- (epcl);
\draw[ab] (epcl) -- (x9);
\draw[ab] (x9) -- (fgcl);
\draw[ab] (fgcl) -- (x10);
\draw[ab] (x10) -- (efcl);
\draw[ab] (bench.east) -| (x9.south);
\draw[ab] (bench.east) ++(0,4) -| (x15.north);
\draw[ab] (x14) -- (epncl);
\draw[ab] (epncl) -- (x15);
\draw[ab] (rfac.east) -| (x15.south);
\draw[ab] (x15.east) -- ++(6,0) |- (fgncl.west);
\draw[ab] (fgncl) -- (x16);
\draw[ab] (x16) -- (efncl);
\draw[ab] (rfcl.east) -| (x10.south);
\draw[ab] (rfncl.east) -| (x16.south);
\draw[ag] (hrtr.east) -| (x7.south);
\draw[ag] (hrtr.east) -- (1724,1066) |- (x17.west);
\draw[ag] (or9.east) -| (m4.south);
\draw[ag] (or9.east) -- (1457,1188) |- (s16.west);
\draw[ag] (or9.east) -- (1463,1188) |- (s17.west);
\draw[ag] (or9.east) -- (1470,1188) |- (s18.west);

% quality / percent chain
\draw[ab] (qc) -- (cppt);
\draw[ab] (qc) -- (corr);
\draw[ab] (corr.east) -| (1242,593) -- (1251,593);
\draw[ab] (fgppt) -- (qc);
\draw[ab] (d5) -- (fgppt);
\draw[ab] (fgtt.east) -| (d5.north);
\draw[ab] (vpt2) -- (d5);
\draw[ab] (vpt2.east) ++(0,-9) -| (954,545) -- (s13.west);
\draw[ab] (s13) -- (fgtt);
\draw[ab] (d4) -- (vpt1);
\draw[ab] (vpt1) -- (s12);
\draw[ab] (s12) -- (vpt2);
\draw[ab] (fgd) -- (d4);
\draw[ab] (mfpt.east) -| (d4.south);
\draw[ab] (fgapt.east) -- (s11.west);
\draw[ab] (s11) -- (mfpt);
\draw[ay] (tm1.east) -| (or6.north);
\draw[ay] (or6.east) -- (673,472) -- (673,498);
\draw[ay] (tm2) -- (x19);
\draw[ay] (x19) -- (tmf);
\draw[ay] (or5.east) -| (x19.south);
\draw[ay] (tm3.east) -| (or5.north);
\draw[ay] (tm4) -- (tm5);
\draw[ay] (tm5) -- (or5);
\draw[ay] (tmf.east) -| (763,603) -| (540,611);
\draw[ay] (nox.east) -- (518,629);
\draw[ay] (518,629) |- (tm1.west);
\draw[ay] (518,629) |- (tm2.west);
\draw[ay] (518,629) |- (tm3.west);
\draw[ay] (518,629) |- (tm4.west);
\draw[ay] (518,629) -- (fgapt.west);
\draw[ay] (518,629) |- node[lbl, pos=0.4, left]{On Data} (fgst.west);
\draw[ab] (ims1.east) -| (454,900);
\draw[ab] (454,629) -- (nox.west);
\draw[ab] (454,760) -- (ec4.west);
\draw[ab] (bt.east) -- (454,804);
\draw[ab] (bbo.east) -- (454,849);
\draw[ab] (bpi.east) -- (454,875);
\draw[ab] (bfl.east) -- (454,900);
\draw[ab] (fgst.east) -| (dqc.north);

% composition
\draw[ay] (fgc.east) -- (80,525) |- node[lbl, pos=0.35]{Sample} (anal.west);
\draw[ay] (fgc.east) -- (80,525) |- node[lbl, pos=0.35]{Online} (fgrc.west);
\draw[ay] (anal) -- (or3);
\draw[ay] (fgrc) -- (or3);
\draw[ay] (or3) -- (fgrcf);
\draw[ay] (fgrcf) -- (ims1);
\draw[ay] (anal.east) -| (or4.north);
\draw[ab] (ims1) -- (or4);

% fuel gas allocation
\draw[ab] (e1.east) -| (o1.north);
\draw[ab] (e2.east) -- (91,730);
\draw[ab] (e3.east) -- (91,765);
\draw[ab] (e4.east) -| (o3.south);
\draw[ab, -] (o1) -- (o2);
\draw[ab, -] (o2) -- (o3);
\draw[ab] (o1.east) -| (o4.north);
\draw[ab] (o2.east) -- (120,746);
\draw[ab, -] (o4) -- (o5);
\draw[ab] (o3.east) -| (o5.south);
\draw[ab] (o4.east) -| (o6.north);
\draw[ab] (o5.east) -| (o6.south);
\draw[ab] (o6) -- (flar);
\draw[ab] (o6.east) ++(6,0) |- (pilot.west);
\draw[ab] (o6.east) ++(6,0) |- (burn.west);
\draw[ab] (flar.east) -| (m5.north);
\draw[ab] (flar.east) -| (xd.north);
\draw[ab] (pilot.east) -| (m6.north);
\draw[ab] (pilot.east) -| (xc.north);
\draw[ab] (burn.east) -| (m7.north);
\draw[ab] (burn.east) -| (xb.north);
\draw[ab] (c100f) -- (m5);
\draw[ab] (m5) -- (m6);
\draw[ab] (m6) -- (m7);
\draw[ab] (m7.east) -| (xa.north);
\draw[ab] (ca) -- (xa);
\draw[ab] (cb) -- (xb);
\draw[ab] (cc) -- (xc);
\draw[ab] (cd) -- (xd);
\draw[ab] (xa) -- (bt);
\draw[ab] (xb.east) -- (370,822) |- (bbo.west);
\draw[ab] (xc.east) -- (332,844) |- (bpi.west);
\draw[ab] (xd.east) -- (294,865) |- (bfl.west);
\draw[ab] (totfg.east) -- (228,864) |- (xa.west);
\draw[ab] (228,864) |- (xb.west);
\draw[ab] (228,864) |- (xc.west);
\draw[ab] (228,864) -- (xd.west);
\draw[ab] (e5.east) -| (o7.north);
\draw[ab] (e6.east) -| (dv.north);
\draw[ab] (e7.east) -| (dv.south);
\draw[ab] (dv.east) -| (o7.south);
\draw[ab] (o7) -- (totfg);

% orange categories
\draw[ay] (ec4.east) -- (516,760) |- (fgden.west);
\draw[ay] (ec4) -- (fgae);
\draw[ay] (fgae) -- (s14);
\draw[ay] (s14) -- (fgsum);
\draw[ay] (fgsum) -- (d6);
\draw[ay] (d6) -- (fgac);
\draw[ay] (fgac) -- (dqc);
\draw[ay] (fgden.east) -| (d6.north);
\draw[ay] ([xshift=-4pt]fgae.south east) |- (d7.west);
\draw[ay] (fgsum.east) ++(0,5) -| (d7.north);
\draw[ay] (d7) -- (fgap);
\draw[ay] (fgap.east) -- (770,799) -- (770,762);
\draw[ay] (dqc) -- node[lbl]{Approve} (adfg);
\draw[ay] (dqc.south) |- node[lbl, pos=0.35]{Failed} (or8.west);
\draw[ay] (or8.east) -| node[lbl, pos=0.75]{Corrected} (864,762);
\draw[ab] (dn12.south) -- (or8.north);
\draw[ab] (upd.north) -- (or8.south);
\draw[ay] (adfg) -- (adb);
\draw[ay] (adfg.east) ++(0,3) -| (954,799) -- (adp.west);
\draw[ay] (adfg.east) ++(0,6) -| (949,838) -- (adf.west);
\draw[ay] (adb) -- (xb1);
\draw[ay] (adp) -- (xp1);
\draw[ay] (adf) -- (xf1);
\draw[ab] (xb1) -- (cb1);
\draw[ab] (xp1) -- (cp1);
\draw[ab] (xf1) -- (cf1);
\draw[ab] (pu2) -- (co2fg);
\draw[ab] (co2fg.east) -| (xb1.north);
\draw[ab] (co2fg.east) -| (xp1.north);
\draw[ab] (co2fg.east) -| (xf1.north);

% diesel
\draw[abd] (pd1) -- (td);
\draw[abd] (pd2) -- (otd);
\draw[abd] (pd3) -- (dd);
\draw[abd] (td) -- (s15);
\draw[abd] (otd.east) -| (s15.south);
\draw[abd] (s15) -- (pd4);
\draw[abd] (pd4) -- (tde);
\draw[abd] (dd) -- (pd5);
\draw[abd] (pd5) -- (p1);
\draw[abd] (tde.east) -| (m8.north);
\draw[abd] (tde.east) -- (732,878) |- (tdb.west);
\draw[abd] (tdb.east) -| (p1.north);
\draw[abd] (p1.east) -| (m8.south);
\draw[abd] (m8) -- (cons);
\draw[abd] (cons) -- (add);
\draw[ab] (pu4) -- (co2d);
\draw[ab] (co2d.east) -| (xd1.north);
\draw[abd] (add) -- (xd1);
\draw[abd] (xd1) -- (co2dc);

% heat medium
\draw[ab] (hc1) -- (hmf);
\draw[ab] (hc2) -- (hmo);
\draw[ab] (hc3) -- (hmu);
\draw[ab] (hmf) -- (hmo);
\draw[ab] (hft) -- (yx1);
\draw[ab] (hmf) -- (yx1);
\draw[ab] (yx1) -- (yp1);
\draw[ab] (hmo) -- (yp1);
\draw[ab] (yp1) -- (yx2);
\draw[ab] (hmu) -- (yx2);
\draw[ab] (yx2) -- (dynhm);
\draw[ay] (dynhm) -- (yor);
\draw[ay] (stahm) -- (yor);
\draw[ab] (yor.east) -| (947,1027) -- (hmd.west);
\draw[ab] (hmd.east) -| (x20.north);
\draw[ab] (hrc.east) -| (1097,1140);
\draw[ab] (hti.east) -- (1016,1104) |- (ehr.west);
\draw[ab] (hto) -- (ehr);
\draw[ab] (hfc.east) -- (1016,1181) |- (ehr.west);
\draw[ab] (hfl.east) -| (x20.south);
\draw[ab] (1016,1220) |- (ehr.west);
\draw[ab] (ehr) -- (hrcalc);
\draw[ab] (ehr.south) |- (hrn.west);
\draw[ab] (hrn) -- (z1);
\draw[ag] (z1.east) -- (1234,1188) -- (1234,1143);
\draw[ag] (hrcalc) -- (x20);
\draw[ag] (x20) -- (x21);
\draw[ab] (c24) -- (uch);
\draw[ab] (uch) -- (x21);
\draw[ag] (x21) -- (x22);
\draw[ab] (cm) -- (ucj);
\draw[ab] (ucj) -- (x22);
\draw[ag] (x22) -- (hrec);
\draw[ag] (hrec) -- (or9);
\draw[ag] (hrild) -- (or9);
\draw[ab] (tex5) -- (hrl);
\draw[ab] (hrl.east) -| (x23.north);
\draw[ag] (s16) -- (thr);
\draw[ag] (thr) -- (x23);
\draw[ag] (x23) -- (hrtr);
\draw[ag] (s17) -- (threl);
\draw[ag] (s18) -- (thrc);

% sum active
\draw[ab] (eq1) -- (dia1);
\draw[ab] (dia1) -- (hra1);
\draw[ab] (eq1) -- (eqn);
\draw[ab] (eqn) -- (dian);
\draw[ab] (dian) -- (hran);
\draw[ab] (hra1) -- (hran);
\draw[ab] (hra1.east) -- (695,1183) |- (s19.west);
\draw[ab] (hran.east) -- (695,1251) |- (s19.west);
\draw[ab] (s19) -- (hrsa);
\draw[ab] (hrsa) -- (dsa);
\draw[ab] (dsa) -- (sa);
\draw[ab] (sa) -- (d8);
\draw[ab] (hrcf.east) -| (d8.north);
\draw[ab] (d8) -- (hfl);
\draw[ab] (dsa.south) |- (z2.west);
\draw[ab] (z2.east) -- (948,1251) -- (948,1221);
\draw[ab] (dia1.south) |- (1325,1279) |- (hrild.west);
\draw[ab] (dian.south) |- (1347,1286) |- (hrild.west);
\end{tikzpicture}
\end{document}
